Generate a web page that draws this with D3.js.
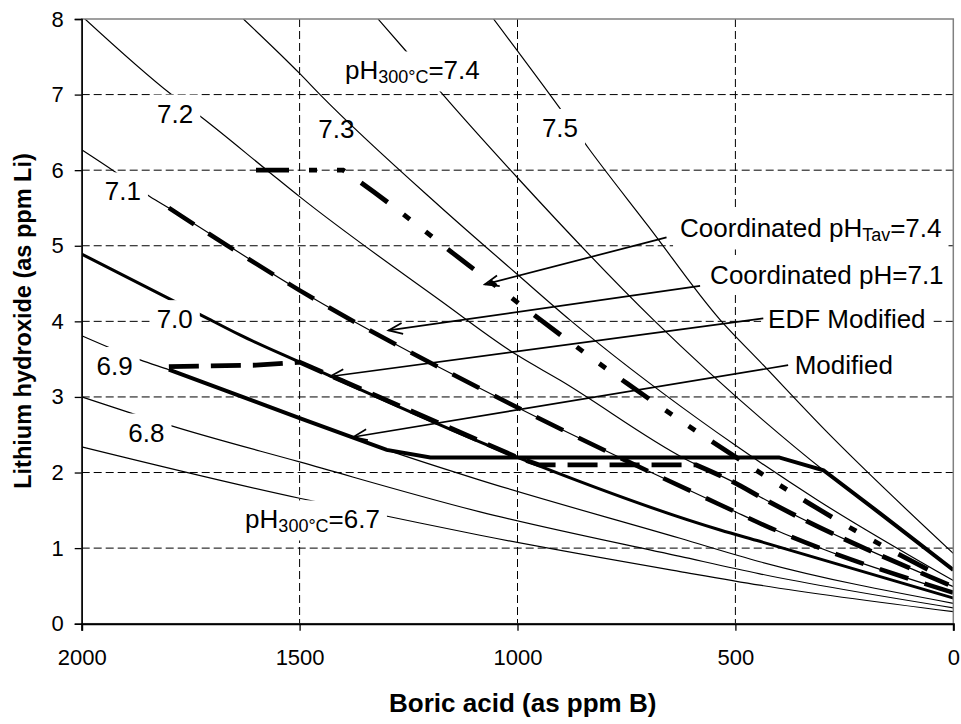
<!DOCTYPE html>
<html>
<head>
<meta charset="utf-8">
<script src="https://cdn.jsdelivr.net/npm/d3@7"></script>
<style>
body { margin: 0; background: #fff; }
svg { font-family: "Liberation Sans", Arial, sans-serif; }
.grid line { stroke: #000; stroke-width: 1; stroke-dasharray: 8,4; }
.curve { fill: none; stroke: #000; stroke-width: 1.2; }
.curve.thick { stroke-width: 3; }
.modified { fill: none; stroke: #000; stroke-width: 4; }
.edf { fill: none; stroke: #000; stroke-width: 4.8; stroke-dasharray: 30,12; }
.coord71 { fill: none; stroke: #000; stroke-width: 4.5; stroke-dasharray: 30,17; }
.coord74 { fill: none; stroke: #000; stroke-width: 4.8; stroke-dasharray: 33,20,8,20,8,20; }
.arrow { stroke: #000; stroke-width: 1.7; }
.axis text { font-size: 22px; fill: #000; }
.axis path, .axis line { stroke: #000; }
.title { font-size: 26px; font-weight: bold; }
.title.y { font-size: 23.5px; }
.label { font-size: 26px; }
.label .sub { font-size: 18px; }
</style>
</head>
<body>
<div id="chart"></div>
<script>
const width = 961
const height = 724
const margin = {
    top: 19,
    bottom: 100.3,
    left: 81.7,
    right: 7.7
}

// pH(300°C) curves: [boric acid ppm B, lithium ppm Li]
const ph67 = [[2000, 2.34], [1500, 1.66], [1293, 1.415], [1086, 1.17], [627, 0.69], [444, 0.51], [0, 0.16]]
const ph68 = [[2000, 3.0], [1878, 2.77], [1790, 2.61], [1500, 2.14], [1086, 1.48], [627, 0.89], [444, 0.66], [0, 0.21]]
const ph69 = [[2000, 3.81], [1866, 3.49], [1800, 3.36], [1500, 2.72], [1300, 2.30], [1086, 1.90], [627, 1.13], [444, 0.82], [0, 0.27]]
const ph70 = [[2000, 4.89], [1786, 4.26], [1725, 4.08], [1637, 3.82], [1500, 3.46], [1000, 2.20], [535, 1.24], [444, 1.09], [0, 0.34]]
const ph71 = [[2000, 6.27], [1924, 5.98], [1843, 5.65], [1800, 5.50], [1500, 4.41], [1000, 2.86], [500, 1.48], [444, 1.33], [0, 0.41]]
const ph72 = [[2000, 8.04], [1794, 7.0], [1725, 6.70], [1575, 6.0], [1500, 5.65], [1178, 4.28], [1000, 3.55], [902, 3.22], [612, 2.17], [500, 1.86], [444, 1.68], [0, 0.49]]
const ph73 = [[1629, 8.0], [1500, 7.28], [1453, 7.0], [1178, 5.52], [1000, 4.62], [880, 4.02], [581, 2.69], [500, 2.36], [313, 1.64], [0, 0.57]]
const ph74 = [[1320, 8.0], [1258, 7.59], [1174, 7.02], [1000, 5.9], [688, 4.02], [436, 2.69], [298, 2.03], [168, 1.46], [0, 0.71]]
const ph75 = [[1055, 8.0], [903, 6.82], [837, 6.29], [700, 5.26], [535, 4.02], [444, 3.47], [294, 2.56], [0, 0.93]]

// operating strategies
const coord74 = [[1600, 6.0], [1400, 6.0], [1358, 5.83], [1098, 4.68], [749, 3.18], [482, 2.14], [206, 1.17], [42, 0.67]]
const edfHold = [[1800, 3.40], [1600, 3.42]]
const edfStep = [[950, 2.10], [590, 2.10]]
const modStep = [[1200, 2.20], [400, 2.20]]

const xTicks = [2000, 1500, 1000, 500, 0]
const yTicks = [0, 1, 2, 3, 4, 5, 6, 7, 8]

const thinCurves = [ph67, ph68, ph69, ph71, ph72, ph73, ph74, ph75]

// labels (position in data units: B, Li)
const curveLabels = [
    {pre: "7.2", b: 1827, li: 6.63, box: true},
    {pre: "7.3", b: 1457, li: 6.43, box: false},
    {pre: "pH", sub: "300°C", post: "=7.4", b: 1396, li: 7.20, box: true},
    {pre: "7.5", b: 944, li: 6.44, box: true},
    {pre: "7.1", b: 1947, li: 5.60, box: true},
    {pre: "7.0", b: 1828, li: 3.91, box: true},
    {pre: "6.9", b: 1966, li: 3.29, box: true},
    {pre: "6.8", b: 1893, li: 2.41, box: true},
    {pre: "pH", sub: "300°C", post: "=6.7", b: 1625, li: 1.26, box: true},
    {pre: "Coordinated pH", sub: "Tav", post: "=7.4", b: 627, li: 5.11, box: true},
    {pre: "Coordinated pH=7.1", b: 558, li: 4.50, box: true},
    {pre: "EDF Modified", b: 425, li: 3.91, box: true},
    {pre: "Modified", b: 364, li: 3.31, box: true}
]
const arrows = [
    {from: [658, 5.11], to: [1075, 4.49]},
    {from: [581, 4.47], to: [1296, 3.88]},
    {from: [436, 4.04], to: [1430, 3.27]},
    {from: [379, 3.42], to: [1377, 2.47]}
]

const svg = d3.select("#chart").append("svg").attr("width", width).attr("height", height)
const innerW = width - margin.left - margin.right
const innerH = height - margin.top - margin.bottom

let x = d3.scaleLinear().domain([2000, 0]).range([0, innerW])
let y = d3.scaleLinear().domain([0, 8]).range([innerH, 0])

svg.append("defs").append("clipPath").attr("id", "plotClip")
    .append("rect").attr("width", innerW).attr("height", innerH)
const marker = svg.select("defs").append("marker")
    .attr("id", "head").attr("markerUnits", "userSpaceOnUse")
    .attr("viewBox", "-16 -8 18 16").attr("refX", 0).attr("refY", 0)
    .attr("markerWidth", 18).attr("markerHeight", 16).attr("orient", "auto")
marker.append("path").attr("d", "M-14,-5.5 L0,0 L-14,5.5").attr("fill", "none")
    .attr("stroke", "#000").attr("stroke-width", 1.7)

const plot = svg.append("g").attr("transform", `translate(${margin.left}, ${margin.top})`)

// grid
const grid = plot.append("g").attr("class", "grid")
grid.selectAll("line.v").data(xTicks.filter(d => d > 0 && d < 2000)).enter().append("line")
    .attr("x1", d => x(d)).attr("x2", d => x(d)).attr("y1", 0).attr("y2", innerH)
grid.selectAll("line.h").data(yTicks.filter(d => d > 0 && d < 8)).enter().append("line")
    .attr("x1", 0).attr("x2", innerW).attr("y1", d => y(d)).attr("y2", d => y(d))

const smooth = d3.line()
    .x(d => x(d[0]))
    .y(d => y(d[1]))
    .curve(d3.curveMonotoneX)
const straight = d3.line()
    .x(d => x(d[0]))
    .y(d => y(d[1]))
const sorted = s => s.slice().sort((a, b) => b[0] - a[0])
const at = (s, b) => s.find(d => d[0] === b)

// one path from several pieces, smooth where a strategy follows a pH curve
function joined(pieces) {
    return pieces.map((p, i) => {
        const d = (p.smooth ? smooth : straight)(sorted(p.pts))
        return i === 0 ? d : d.replace(/^M/, "L")
    }).join("")
}

const edfPath = joined([
    {pts: [...edfHold, at(ph70, 1500)]},
    {pts: ph70.filter(d => d[0] <= 1500 && d[0] >= 1000), smooth: true},
    {pts: [at(ph70, 1000), ...edfStep]},
    {pts: [edfStep[1], ...ph72.filter(d => d[0] <= 500)], smooth: true}
])
const modifiedPath = joined([
    {pts: ph69.filter(d => d[0] <= 1800 && d[0] >= 1300), smooth: true},
    {pts: [at(ph69, 1300), ...modStep, at(ph74, 298)]},
    {pts: ph74.filter(d => d[0] <= 298), smooth: true}
])
const coord74Path = joined([
    {pts: coord74.slice(0, 2)},
    {pts: coord74.slice(1), smooth: true}
])
const coord71 = ph71.filter(d => d[0] <= 1800)

const curves = plot.append("g").attr("clip-path", "url(#plotClip)")
curves.selectAll("path.thin").data(thinCurves).enter().append("path")
    .attr("class", "curve").attr("d", d => smooth(sorted(d)))
curves.append("path").attr("class", "curve thick").attr("d", smooth(sorted(ph70)))
curves.append("path").attr("class", "modified").attr("d", modifiedPath)
curves.append("path").attr("class", "edf").attr("d", edfPath)
curves.append("path").attr("class", "coord71").attr("d", smooth(sorted(coord71)))
curves.append("path").attr("class", "coord74").attr("d", coord74Path)

// plot area border
plot.append("rect").attr("width", innerW).attr("height", innerH)
    .attr("fill", "none").attr("stroke", "#808080").attr("stroke-width", 1.5)

// axes
const xAxis = d3.axisBottom(x).tickValues(xTicks).tickSize(7).tickPadding(19).tickFormat(d3.format("d"))
const yAxis = d3.axisLeft(y).tickValues(yTicks).tickSize(7).tickPadding(11).tickFormat(d3.format("d"))
const xAxisGroup = plot.append("g").attr("class", "axis").attr("transform", `translate(0, ${innerH})`).call(xAxis)
const yAxisGroup = plot.append("g").attr("class", "axis").call(yAxis)
xAxisGroup.select(".domain").attr("stroke", "#444").attr("stroke-width", 2)
yAxisGroup.select(".domain").attr("stroke-width", 1.5)
xAxisGroup.selectAll(".tick line").attr("stroke-width", 1.3)
yAxisGroup.selectAll(".tick line").attr("stroke-width", 1.3)
xAxisGroup.attr("font-family", null).attr("font-size", null)
yAxisGroup.attr("font-family", null).attr("font-size", null)

// labels with white boxes
const labelGroup = plot.append("g")
curveLabels.forEach(l => {
    const g = labelGroup.append("g")
    const t = g.append("text").attr("class", "label")
        .attr("x", x(l.b)).attr("y", y(l.li))
    t.append("tspan").text(l.pre)
    if (l.sub) {
        t.append("tspan").attr("class", "sub").attr("dy", 4).text(l.sub)
        t.append("tspan").attr("dy", -4).text(l.post)
    }
    if (l.box) {
        const bb = t.node().getBBox()
        g.insert("rect", "text")
            .attr("x", bb.x - 7).attr("y", bb.y - 4)
            .attr("width", bb.width + 14).attr("height", bb.height + 8)
            .attr("fill", "#fff")
    }
})

// arrows
plot.selectAll("line.arrow").data(arrows).enter().append("line")
    .attr("class", "arrow")
    .attr("x1", d => x(d.from[0])).attr("y1", d => y(d.from[1]))
    .attr("x2", d => x(d.to[0])).attr("y2", d => y(d.to[1]))
    .attr("marker-end", "url(#head)")

// titles
svg.append("text").attr("class", "title")
    .attr("text-anchor", "middle")
    .attr("x", margin.left + innerW * 0.506).attr("y", 712)
    .text("Boric acid (as ppm B)")
svg.append("text").attr("class", "title y")
    .attr("text-anchor", "middle")
    .attr("transform", `translate(31, ${margin.top + 302}) rotate(-90)`)
    .text("Lithium hydroxide (as ppm Li)")
</script>
</body>
</html>
